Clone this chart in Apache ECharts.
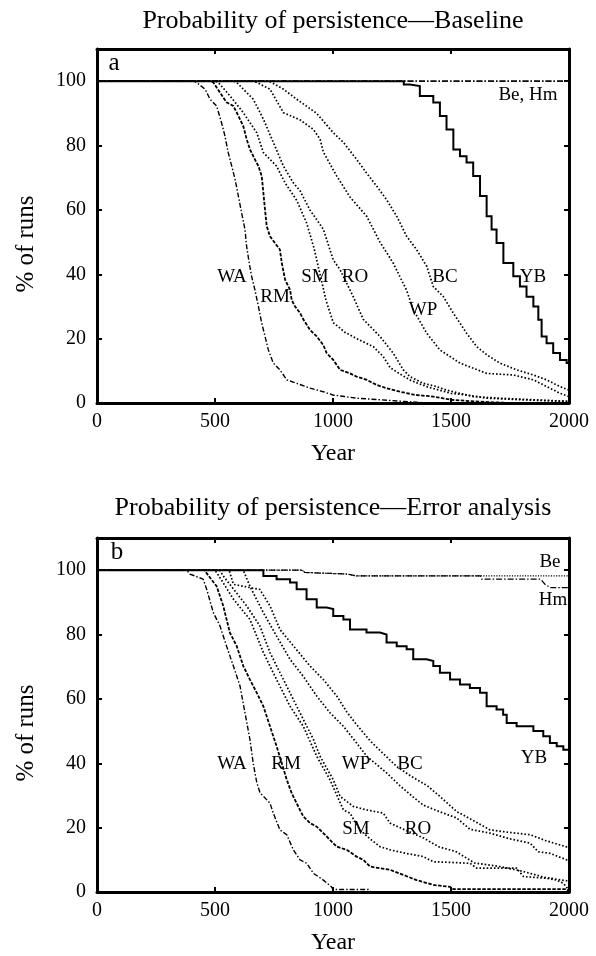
<!DOCTYPE html>
<html><head><meta charset="utf-8">
<script src="https://cdn.jsdelivr.net/npm/echarts@6/dist/echarts.min.js"></script>
<style>html,body{margin:0;padding:0;background:#fff}#c{width:596px;height:956px}</style>
</head><body><div id="c"></div>
<script>
// ---------- DATA ----------
const yearTicks = [0, 500, 1000, 1500, 2000];
const pctTicks = [0, 20, 40, 60, 80, 100];

// Panel a (Baseline): [year, % of runs]
const a_WA = [[0,100],[410,100],[422,99.6],[458,97.5],[479,94.4],[507,92.3],[528,87],[542,83],[556,77.8],[571,73.6],[585,69.5],[599,64.3],[613,59],[627,53.9],[634,48.7],[645,43.5],[655,39.4],[669,35.2],[684,30],[698,24.8],[712,20.7],[726,16.5],[747,12.4],[775,10.3],[804,7.2],[846,6.1],[903,4.6],[959,3.5],[1000,2.5],[1050,2],[1100,1.5],[1200,1],[1300,0.5],[1400,0],[2000,0]];
const a_RM = [[0,100],[480,100],[493,99.6],[521,96.5],[549,93.4],[578,92.3],[599,89.2],[620,86],[634,82],[648,78.8],[669,75.7],[684,73.6],[698,70.5],[705,65.3],[712,60],[719,55],[733,51.8],[754,49.7],[775,47.7],[783,43.5],[797,38.3],[818,35.2],[825,32],[839,30],[860,28],[874,26],[903,22.7],[931,20.7],[959,18],[973,15.5],[1001,13.4],[1030,10.3],[1072,9.2],[1100,8.2],[1143,7.2],[1185,5.6],[1227,4.6],[1284,3.5],[1350,2.5],[1425,2],[1500,1],[1600,0.5],[1750,0],[2000,0]];
const a_SM = [[0,100],[500,100],[514,99.6],[564,95.4],[620,90.2],[677,84],[705,77.8],[761,73.6],[797,68.4],[846,63],[888,56],[920,48],[945,40],[970,32],[1001,25],[1050,22],[1100,20],[1171,17.5],[1213,14.4],[1242,11],[1284,9],[1330,7],[1400,5],[1450,4],[1500,3],[1566,2.5],[1650,1.5],[1800,1],[2000,0.5]];
const a_RO = [[0,100],[580,100],[592,99.6],[662,94.4],[705,88.2],[747,81],[790,73.6],[832,68.4],[860,66],[902,60],[959,54],[1001,44.5],[1030,41.4],[1086,33],[1128,26],[1199,20.7],[1255,15.5],[1298,10.3],[1326,8.2],[1383,6.1],[1439,5.1],[1481,4],[1538,3],[1594,2],[1707,1.5],[1849,1],[2000,0.5]];
const a_WP = [[0,100],[665,100],[677,99.6],[733,97.5],[790,90.2],[860,88],[917,85],[945,82],[959,78],[1016,70.5],[1072,64],[1143,58],[1199,50],[1255,43.5],[1312,35],[1340,29],[1397,21.7],[1453,16.5],[1538,12.4],[1651,9.2],[1764,8.7],[1849,7.2],[1962,3],[2000,2]];
const a_BC = [[0,100],[728,100],[740,99.6],[790,97.5],[846,94.4],[931,90],[1001,84],[1044,81],[1100,75.7],[1142,71.5],[1185,67.4],[1227,63.2],[1270,58],[1312,51.8],[1354,47.7],[1397,42.5],[1425,36.2],[1467,33.1],[1510,27.9],[1566,21.7],[1609,17.5],[1651,15],[1707,12.4],[1778,10.3],[1849,8.7],[1905,7.2],[1962,5.1],[2000,4]];
const a_YB = [[0,100],[1262,100],[1300,99],[1326,98.5],[1368,95.4],[1425,93.4],[1453,89.2],[1481,85],[1510,78.8],[1538,76.7],[1566,74.7],[1594,70.5],[1623,64.3],[1651,58],[1672,53.9],[1693,49.7],[1722,43.5],[1764,39.4],[1792,36.2],[1820,33],[1849,30],[1870,25.9],[1884,20.7],[1905,18.6],[1933,15.5],[1962,13.4],[1990,12.4],[2000,12]];
const a_Be = [[0,100],[2000,100]];
const a_Hm = [[0,100],[2000,100]];

// Panel b (Error analysis)
const b_WA = [[0,100],[380,100],[394,98.8],[450,97.2],[465,94],[493,86.8],[521,82.7],[549,76.4],[578,70.2],[606,64],[627,55.7],[648,47.4],[662,40],[677,34],[691,30.8],[733,27.6],[747,24.5],[775,19.3],[804,17.8],[832,13.1],[860,10],[889,8.9],[917,5.8],[959,3.7],[994,1.6],[1000,0.8],[1150,0.8],[1160,0],[2000,0]];
const b_RM = [[0,100],[455,100],[465,99],[507,95],[535,88.9],[563,80.6],[592,76.4],[620,70.2],[648,66],[677,61.9],[705,57.7],[733,51.5],[761,45.3],[783,40],[804,34.9],[825,30.7],[860,25.5],[874,23.5],[903,21.4],[931,20.3],[959,18.3],[987,16.2],[1016,14.1],[1058,13.1],[1100,11],[1128,10],[1157,7.9],[1199,7.4],[1242,6.9],[1298,5.3],[1354,3.7],[1425,2.2],[1496,1.6],[1510,0.9],[1990,0.9],[2000,0]];
const b_SM = [[0,100],[495,100],[507,99.3],[578,91],[648,84.7],[705,74.4],[761,66],[818,57.7],[874,51.5],[931,42.2],[987,34.9],[1044,25.5],[1072,24.5],[1114,19.3],[1157,16.5],[1199,14.1],[1242,13.1],[1310,12],[1383,11],[1425,9.4],[1500,9.2],[1581,8.9],[1609,7.4],[1778,7.4],[1807,4.8],[1900,4.3],[1948,3.7],[1976,2.7],[1995,1],[2000,1]];
const b_RO = [[0,100],[520,100],[535,98.2],[634,88.9],[690,82.7],[733,74.4],[790,66],[860,55.7],[917,47.4],[945,42.2],[1001,34.9],[1030,29.7],[1086,26.6],[1143,25.5],[1213,24.5],[1242,21.4],[1305,19.3],[1383,16.8],[1450,14],[1520,12.6],[1600,9],[1700,8],[1800,6.5],[1900,4.5],[1990,3.5],[2000,3.5]];
const b_WP = [[0,100],[620,100],[648,95],[705,86.8],[761,79.5],[818,72.3],[874,67],[931,60.9],[987,55.7],[1044,51.5],[1100,46.3],[1143,42.2],[1227,37],[1284,33],[1340,29.5],[1383,27],[1450,25],[1524,23],[1580,19.5],[1665,18.3],[1750,16.5],[1835,15.2],[1870,12.5],[1920,12],[1990,10],[2000,10]];
const b_BC = [[0,100],[560,100],[578,95.6],[690,94],[733,88.9],[775,81.6],[833,76.4],[903,70.2],[959,66],[1016,60.9],[1058,56],[1100,52],[1157,47],[1213,43],[1270,39],[1330,36],[1400,33],[1453,29.7],[1524,25],[1600,22],[1665,19.3],[1750,18.5],[1835,17.8],[1900,16],[1990,14],[2000,14]];
const b_YB = [[0,100],[662,100],[705,98.2],[761,97.2],[818,96.2],[846,94.1],[888,91],[931,88.4],[973,87.9],[1001,85.8],[1044,84.7],[1072,81.6],[1142,80.6],[1199,80],[1227,77.5],[1270,76.4],[1312,75.4],[1340,72.3],[1397,71.8],[1425,70.2],[1453,68.1],[1496,66],[1538,64.5],[1580,63.4],[1623,61.9],[1651,57.7],[1693,56.7],[1721,55.1],[1736,52.5],[1778,51.5],[1849,50],[1891,48.4],[1919,46.3],[1948,45.3],[1976,44.2],[2000,44.2]];
const b_Be = [[0,100],[870,100],[880,99.3],[1060,98.8],[1100,98.2],[2000,98.2]];
const b_Hm = [[0,100],[870,100],[880,99.3],[1060,98.8],[1100,98.2],[1625,98.2],[1630,97.2],[1880,97.2],[1900,95.5],[1920,94.6],[2000,94.6]];

// ---------- CHART ----------
const FONT = "'Liberation Serif','DejaVu Serif',serif";
const chart = echarts.init(document.getElementById('c'), null, {renderer: 'canvas'});

const STY = {
  dashdot: {width: 1.4, type: [5, 2, 1.5, 2]},
  dashed: {width: 1.8, type: [3.5, 1.5]},
  dotted: {width: 1.7, type: [1.6, 2]},
  solid: {width: 2, type: 'solid'},
  fine: {width: 1.2, type: [1.2, 1.4]},
  dashdotThin: {width: 1.2, type: [6, 2, 1.5, 2]}
};
function ln(name, data, g, sty, stepped) {
  return {type: 'line', name: name, data: data, xAxisIndex: g * 2, yAxisIndex: g * 2,
    step: stepped ? 'end' : false, symbol: 'none', silent: true, animation: false,
    lineStyle: Object.assign({color: '#000', cap: 'butt', join: 'miter'}, STY[sty])};
}

const grids = [
  {left: 97, top: 49, width: 472, height: 354},
  {left: 97, top: 538, width: 472, height: 354}
];
function xAx(g, pos) {
  return {type: 'value', gridIndex: g, position: pos, min: 0, max: 2000, interval: 500,
    axisLine: {show: true, onZero: false, lineStyle: {color: '#000', width: 3}},
    axisTick: {show: true, inside: true, length: 5, lineStyle: {color: '#000', width: 2}},
    axisLabel: {show: pos === 'bottom', color: '#000', fontFamily: FONT, fontSize: 20, margin: 9,
      formatter: function (v) { return String(v); }},
    splitLine: {show: false}};
}
function yAx(g, pos) {
  return {type: 'value', gridIndex: g, position: pos, min: 0, max: 110, interval: 20,
    axisLine: {show: true, onZero: false, lineStyle: {color: '#000', width: 3}},
    axisTick: {show: true, inside: true, length: 5, lineStyle: {color: '#000', width: 2}},
    axisLabel: {show: pos === 'left', showMaxLabel: false, color: '#000', fontFamily: FONT, fontSize: 20, margin: 11,
      formatter: function (v) { return v > 100 ? '' : String(v); }},
    splitLine: {show: false}};
}
function txt(text, x, y, size, rot) {
  return {type: 'text', x: x, y: y, rotation: rot || 0, silent: true,
    style: {text: text, fill: '#000', font: size + 'px ' + FONT,
      align: 'center', verticalAlign: 'middle', textAlign: 'center', textVerticalAlign: 'middle'}};
}

const series = [
  ln('Be', a_Be, 0, 'dashdotThin'), ln('Hm', a_Hm, 0, 'dashdotThin'),
  ln('WA', a_WA, 0, 'dashdot'), ln('RM', a_RM, 0, 'dashed'),
  ln('SM', a_SM, 0, 'dotted'), ln('RO', a_RO, 0, 'dotted'),
  ln('WP', a_WP, 0, 'dotted'), ln('BC', a_BC, 0, 'dotted'),
  ln('YB', a_YB, 0, 'solid', true),
  ln('Be', b_Be, 1, 'fine'), ln('Hm', b_Hm, 1, 'dashdotThin'),
  ln('WA', b_WA, 1, 'dashdot'), ln('RM', b_RM, 1, 'dashed'),
  ln('SM', b_SM, 1, 'dotted'), ln('RO', b_RO, 1, 'dotted'),
  ln('WP', b_WP, 1, 'dotted'), ln('BC', b_BC, 1, 'dotted'),
  ln('YB', b_YB, 1, 'solid', true)
];

const graphic = [
  txt('Probability of persistence\u2014Baseline', 333, 21, 26),
  txt('Probability of persistence\u2014Error analysis', 333, 508, 26),
  txt('% of runs', 26, 244, 25, Math.PI / 2),
  txt('% of runs', 26, 733, 25, Math.PI / 2),
  txt('Year', 333, 454, 24),
  txt('Year', 333, 943, 24),
  txt('a', 114, 63, 25),
  txt('b', 117, 552, 25),
  // panel a curve labels
  txt('WA', 232, 277, 19), txt('RM', 275, 297, 19), txt('SM', 315, 277, 19),
  txt('RO', 355, 277, 19), txt('BC', 445, 277, 19), txt('WP', 423, 310, 19),
  txt('YB', 533, 277, 19), txt('Be, Hm', 528, 95, 19),
  // panel b curve labels
  txt('WA', 232, 764, 19), txt('RM', 286, 764, 19), txt('WP', 356, 764, 19),
  txt('BC', 410, 764, 19), txt('YB', 534, 758, 19), txt('Be', 550, 562, 19),
  txt('Hm', 553, 600, 19), txt('SM', 356, 829, 19), txt('RO', 418, 829, 19)
];

chart.setOption({
  backgroundColor: '#fff',
  animation: false,
  grid: grids,
  xAxis: [xAx(0, 'bottom'), xAx(0, 'top'), xAx(1, 'bottom'), xAx(1, 'top')],
  yAxis: [yAx(0, 'left'), yAx(0, 'right'), yAx(1, 'left'), yAx(1, 'right')],
  series: series,
  graphic: graphic
});
</script>
</body></html>
